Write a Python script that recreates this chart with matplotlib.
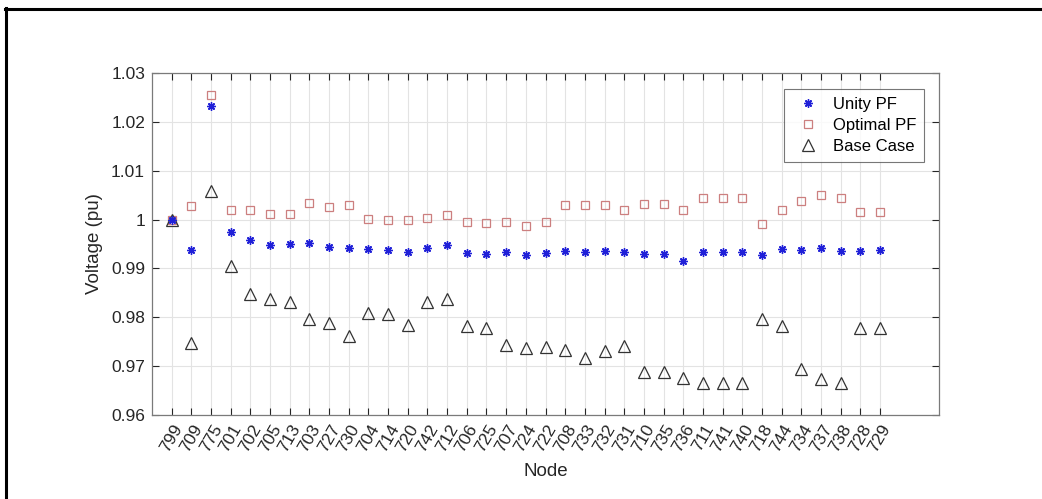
import matplotlib

matplotlib.use("Agg")

import matplotlib.pyplot as plt  # noqa: E402
import matplotlib.transforms as mtransforms  # noqa: E402
import numpy as np  # noqa: E402
from matplotlib.lines import Line2D  # noqa: E402

nodes = ["799", "709", "775", "701", "702", "705", "713", "703", "727", "730",
         "704", "714", "720", "742", "712", "706", "725", "707", "724", "722",
         "708", "733", "732", "731", "710", "735", "736", "711", "741", "740",
         "718", "744", "734", "737", "738", "728", "729"]

unity_pf = [1.0000, 0.9937, 1.0232, 0.9974, 0.9958, 0.9948, 0.9950, 0.9952,
            0.9944, 0.9941, 0.9939, 0.9937, 0.9934, 0.9941, 0.9948, 0.9931,
            0.9930, 0.9934, 0.9927, 0.9931, 0.9935, 0.9933, 0.9935, 0.9933,
            0.9930, 0.9930, 0.9915, 0.9933, 0.9933, 0.9933, 0.9927, 0.9940,
            0.9937, 0.9941, 0.9935, 0.9935, 0.9937]

optimal_pf = [1.0000, 1.0028, 1.0254, 1.0020, 1.0019, 1.0011, 1.0012, 1.0034,
              1.0025, 1.0029, 1.0001, 1.0000, 0.9999, 1.0003, 1.0010, 0.9995,
              0.9993, 0.9995, 0.9987, 0.9995, 1.0029, 1.0030, 1.0029, 1.0020,
              1.0032, 1.0032, 1.0019, 1.0044, 1.0044, 1.0044, 0.9991, 1.0019,
              1.0038, 1.0051, 1.0044, 1.0016, 1.0016]

base_case = [1.0000, 0.9748, 1.0059, 0.9904, 0.9847, 0.9838, 0.9831, 0.9797,
             0.9789, 0.9761, 0.9809, 0.9806, 0.9785, 0.9831, 0.9838, 0.9783,
             0.9779, 0.9744, 0.9737, 0.9740, 0.9733, 0.9717, 0.9732, 0.9742,
             0.9689, 0.9689, 0.9676, 0.9666, 0.9666, 0.9665, 0.9797, 0.9783,
             0.9695, 0.9673, 0.9666, 0.9779, 0.9779]

plt.rcParams["font.family"] = ["Liberation Sans", "DejaVu Sans"]

fig = plt.figure(figsize=(10.42, 4.99), dpi=100)
ax = fig.add_axes([152 / 1042, 1 - 415 / 499, (939 - 152) / 1042, (415 - 73) / 499])

x = np.arange(1, len(nodes) + 1)
ax.plot(x, unity_pf, ls="", marker=(8, 2, 0), ms=6, color="#2020d8",
        mew=1.0, label="Unity PF", zorder=4)
ax.plot(x, optimal_pf, ls="", marker="s", ms=5.6, mfc="none", mec="#cc7f7f",
        mew=0.9, label="Optimal PF", zorder=3)
ax.plot(x, base_case, ls="", marker="^", ms=8, mfc="none", mec="#333333",
        mew=0.9, label="Base Case", zorder=3)

ax.set_xlim(0, 40)
ax.set_ylim(0.96, 1.03)
ax.set_xticks(x)
ax.set_xticklabels(nodes, rotation=60, ha="center", fontsize=12.5)
shift = mtransforms.ScaledTranslation(4 / 100, -2 / 100, fig.dpi_scale_trans)
for lab in ax.get_xticklabels():
    lab.set_transform(lab.get_transform() + shift)
yt = [0.96, 0.97, 0.98, 0.99, 1.0, 1.01, 1.02, 1.03]
ax.set_yticks(yt)
ax.set_yticklabels(["0.96", "0.97", "0.98", "0.99", "1", "1.01", "1.02", "1.03"],
                   fontsize=12.5)
ax.tick_params(direction="in", top=True, right=True, length=5, width=0.8,
               color="#262626", labelcolor="#262626", pad=5)
ax.tick_params(axis="x", pad=5)
ax.grid(True, color="#e3e3e3", lw=0.8)
ax.set_axisbelow(True)
for sp in ax.spines.values():
    sp.set_color("#7a7a7a")
    sp.set_linewidth(0.9)

ax.set_xlabel("Node", fontsize=13.5, color="#262626", labelpad=6)
ax.set_ylabel("Voltage (pu)", fontsize=13.5, color="#262626", labelpad=6)

leg = ax.legend(loc="upper right", bbox_to_anchor=(0.981, 0.953), fontsize=12,
                frameon=True, fancybox=False, borderpad=0.45, handletextpad=0.5,
                labelspacing=0.38, handlelength=2.0, borderaxespad=0)
leg.get_frame().set_edgecolor("#555555")
leg.get_frame().set_linewidth(0.8)

# partial outer border (top and left edges)
fig.add_artist(Line2D([6 / 1042, 6 / 1042], [0, 1 - 8 / 499],
                      transform=fig.transFigure, color="black", lw=2.2))
fig.add_artist(Line2D([5 / 1042, 1], [1 - 9 / 499, 1 - 9 / 499],
                      transform=fig.transFigure, color="black", lw=2.2))

fig.savefig("out.png", dpi=100)
plt.close(fig)
